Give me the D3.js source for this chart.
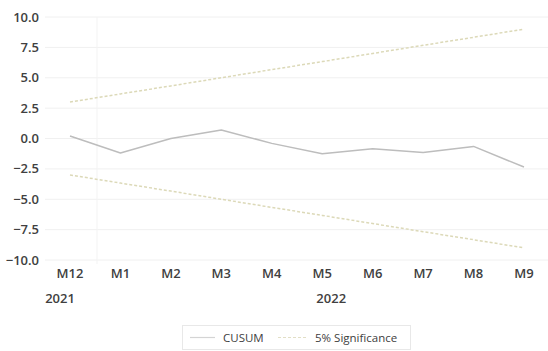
<!DOCTYPE html>
<html>
<head>
<meta charset="utf-8">
<script src="https://cdn.jsdelivr.net/npm/d3@7"></script>
<style>
  body { margin: 0; background: #fff; }
  text { font-family: "Open Sans", sans-serif; }
</style>
</head>
<body>
<svg width="548" height="351"></svg>
<script>
var months = ["M12", "M1", "M2", "M3", "M4", "M5", "M6", "M7", "M8", "M9"];
var years = [{label: "2021", from: 0, to: 0}, {label: "2022", from: 1, to: 9}];
var cusum = [0.2, -1.2, 0.0, 0.7, -0.4, -1.25, -0.85, -1.15, -0.65, -2.35];
var upper = [3.0, 3.67, 4.33, 5.0, 5.67, 6.33, 7.0, 7.67, 8.33, 9.0];
var lower = [-3.0, -3.67, -4.33, -5.0, -5.67, -6.33, -7.0, -7.67, -8.33, -9.0];
var yTicks = [10, 7.5, 5, 2.5, 0, -2.5, -5, -7.5, -10];

var svg = d3.select("svg"),
    margin = {left: 45, right: 0, top: 17, bottom: 91};

var x = d3.scalePoint().domain(months).range([70, 524]);
var y = d3.scaleLinear().domain([-10, 10]).range([260, 17]);

// gridlines
svg.append("g").selectAll("line")
  .data(yTicks)
  .enter().append("line")
  .attr("x1", margin.left)
  .attr("x2", 548)
  .attr("y1", function(d) { return y(d); })
  .attr("y2", function(d) { return y(d); })
  .attr("stroke", "#f0f0f0")
  .attr("stroke-width", 1);

// faint category separator
svg.append("line")
  .attr("x1", 97).attr("x2", 97)
  .attr("y1", y(10)).attr("y2", y(-10) + 4)
  .attr("stroke", "#f3f3f3");

// y labels
svg.append("g").selectAll("text")
  .data(yTicks)
  .enter().append("text")
  .attr("x", 39)
  .attr("y", function(d) { return y(d); })
  .attr("dy", "0.35em")
  .attr("text-anchor", "end")
  .attr("font-size", 13)
  .attr("font-weight", 600)
  .attr("fill", "#404040")
  .text(function(d) { return d3.format(".1f")(d); });

// x labels
svg.append("g").selectAll("text")
  .data(months)
  .enter().append("text")
  .attr("x", function(d) { return x(d); })
  .attr("y", 278)
  .attr("text-anchor", "middle")
  .attr("font-size", 13)
  .attr("font-weight", 600)
  .attr("fill", "#404040")
  .text(function(d) { return d; });

svg.append("g").selectAll("text")
  .data(years)
  .enter().append("text")
  .attr("x", function(d) { return d.from === d.to ? x(months[d.from]) - 10 : (x(months[d.from]) + x(months[d.to])) / 2 + 9; })
  .attr("y", 303)
  .attr("text-anchor", "middle")
  .attr("font-size", 13)
  .attr("font-weight", 600)
  .attr("fill", "#404040")
  .text(function(d) { return d.label; });

var line = d3.line()
  .x(function(d, i) { return x(months[i]); })
  .y(function(d) { return y(d); });

[upper, lower].forEach(function(s) {
  svg.append("path")
    .datum(s)
    .attr("d", line)
    .attr("fill", "none")
    .attr("stroke", "#dcd9b8")
    .attr("stroke-width", 1.5)
    .attr("stroke-dasharray", "3,2");
});

svg.append("path")
  .datum(cusum)
  .attr("d", line)
  .attr("fill", "none")
  .attr("stroke", "#bdbdbd")
  .attr("stroke-width", 1.5)
  .attr("stroke-linejoin", "round");

// legend
var legend = svg.append("g");
legend.append("rect")
  .attr("x", 182.5).attr("y", 325.5)
  .attr("width", 228).attr("height", 24)
  .attr("fill", "#fff")
  .attr("stroke", "#e8e8e8");
legend.append("line")
  .attr("x1", 190).attr("x2", 215).attr("y1", 337.5).attr("y2", 337.5)
  .attr("stroke", "#d4d4d4").attr("stroke-width", 1.2);
legend.append("text")
  .attr("x", 223).attr("y", 337.5).attr("dy", "0.35em")
  .attr("font-size", 11.5).attr("fill", "#404040")
  .text("CUSUM");
legend.append("line")
  .attr("x1", 278).attr("x2", 307).attr("y1", 337.5).attr("y2", 337.5)
  .attr("stroke", "#e2dfc6").attr("stroke-width", 1.2)
  .attr("stroke-dasharray", "3,2");
legend.append("text")
  .attr("x", 315).attr("y", 337.5).attr("dy", "0.35em")
  .attr("font-size", 11.5).attr("fill", "#404040")
  .text("5% Significance");
</script>
</body>
</html>
